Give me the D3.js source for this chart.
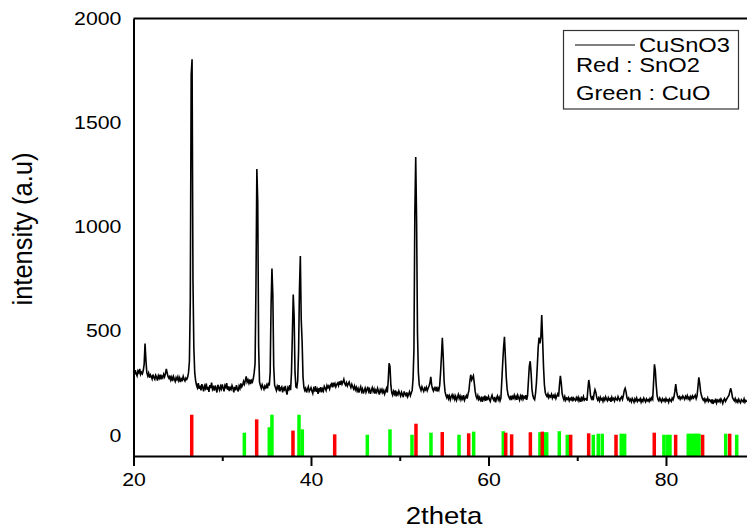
<!DOCTYPE html>
<html>
<head>
<meta charset="utf-8">
<script src="https://cdn.jsdelivr.net/npm/d3@7"></script>
<style>
body { margin: 0; background: #fff; }
svg { display: block; font-family: "Liberation Sans", Arial, sans-serif; }
</style>
</head>
<body>
<svg id="chart" width="747" height="528"></svg>
<script>
// XRD scan: one row per degree, 10 readings per row (0.1 deg step)
var scanStart = 20;
var intensityRows = [
  [305, 290, 312, 296, 285, 308, 300, 318, 292, 302],   // 20
  [295, 310, 340, 440, 360, 300, 285, 298, 276, 290],   // 21
  [282, 270, 291, 276, 268, 288, 279, 262, 285, 274],   // 22
  [290, 268, 283, 275, 292, 280, 296, 318, 298, 280],   // 23
  [272, 286, 265, 278, 260, 282, 270, 258, 276, 266],   // 24
  [280, 262, 275, 255, 270, 264, 282, 268, 260, 274],   // 25
  [268, 278, 300, 355, 650, 1730, 1804, 745, 420, 300], // 26
  [262, 240, 228, 250, 222, 238, 215, 245, 230, 210],   // 27
  [236, 225, 248, 218, 232, 208, 240, 226, 252, 220],   // 28
  [230, 214, 238, 224, 205, 242, 228, 216, 235, 222],   // 29
  [244, 226, 210, 238, 230, 250, 218, 234, 212, 228],   // 30
  [220, 238, 226, 205, 232, 215, 240, 222, 210, 236],   // 31
  [225, 248, 232, 240, 258, 245, 262, 282, 255, 265],   // 32
  [250, 268, 245, 262, 255, 272, 300, 345, 720, 1278],  // 33
  [1120, 425, 255, 238, 225, 242, 230, 220, 236, 228],  // 34
  [240, 225, 252, 238, 300, 620, 800, 675, 330, 240],   // 35
  [228, 215, 235, 222, 240, 210, 226, 232, 205, 225],   // 36
  [218, 236, 212, 195, 228, 220, 240, 216, 300, 480],   // 37
  [675, 570, 300, 232, 228, 260, 400, 700, 860, 555],   // 38
  [450, 280, 230, 215, 225, 205, 220, 232, 210, 218],   // 39
  [228, 212, 200, 224, 216, 235, 208, 220, 198, 226],   // 40
  [214, 230, 206, 222, 212, 234, 225, 215, 238, 228],   // 41
  [236, 222, 240, 246, 230, 252, 238, 248, 232, 244],   // 42
  [250, 238, 258, 242, 262, 245, 255, 268, 248, 240],   // 43
  [252, 236, 246, 255, 240, 228, 244, 232, 222, 236],   // 44
  [218, 230, 212, 224, 205, 220, 232, 210, 222, 200],   // 45
  [214, 226, 206, 218, 232, 210, 220, 198, 215, 228],   // 46
  [210, 222, 200, 216, 206, 225, 212, 195, 218, 208],   // 47
  [220, 204, 215, 198, 212, 224, 205, 260, 345, 330],   // 48
  [240, 205, 192, 210, 198, 215, 186, 204, 195, 212],   // 49
  [200, 188, 206, 195, 182, 210, 198, 190, 205, 185],   // 50
  [196, 208, 190, 202, 215, 270, 410, 1060, 1335, 1030],// 51
  [490, 300, 240, 228, 215, 232, 220, 210, 226, 218],   // 52
  [230, 214, 225, 236, 250, 280, 240, 222, 212, 226],   // 53
  [218, 232, 210, 225, 216, 238, 300, 380, 468, 378],   // 54
  [260, 210, 192, 180, 196, 175, 188, 170, 185, 194],   // 55
  [178, 190, 172, 186, 168, 182, 195, 176, 188, 170],   // 56
  [184, 174, 192, 168, 180, 190, 176, 198, 215, 260],   // 57
  [290, 265, 275, 285, 250, 210, 188, 176, 190, 172],   // 58
  [182, 168, 178, 160, 185, 172, 190, 165, 180, 174],   // 59
  [186, 170, 162, 180, 192, 175, 168, 184, 158, 176],   // 60
  [188, 170, 182, 165, 178, 260, 345, 420, 472, 378],   // 61
  [280, 222, 195, 182, 174, 190, 168, 185, 178, 192],   // 62
  [175, 186, 170, 192, 180, 168, 188, 176, 194, 172],   // 63
  [184, 178, 192, 170, 188, 260, 330, 355, 300, 220],   // 64
  [190, 176, 170, 200, 250, 330, 420, 468, 440, 470],   // 65
  [577, 460, 330, 242, 205, 192, 185, 198, 180, 190],   // 66
  [184, 196, 178, 190, 182, 194, 176, 188, 198, 185],   // 67
  [240, 285, 250, 200, 182, 170, 185, 168, 178, 172],   // 68
  [180, 165, 176, 170, 184, 162, 178, 172, 166, 180],   // 69
  [170, 182, 165, 176, 160, 178, 170, 185, 168, 174],   // 70
  [176, 165, 220, 265, 235, 190, 175, 182, 168, 200],   // 71
  [218, 205, 180, 168, 178, 165, 182, 170, 176, 162],   // 72
  [178, 168, 184, 172, 165, 180, 170, 176, 160, 182],   // 73
  [170, 176, 164, 180, 172, 168, 185, 174, 166, 178],   // 74
  [184, 172, 190, 215, 225, 208, 180, 170, 178, 165],   // 75
  [172, 160, 176, 168, 158, 174, 165, 178, 162, 170],   // 76
  [166, 175, 158, 170, 162, 178, 168, 160, 174, 165],   // 77
  [170, 162, 176, 168, 180, 172, 250, 340, 310, 240],   // 78
  [190, 172, 165, 178, 168, 160, 175, 166, 172, 162],   // 79
  [176, 165, 170, 158, 174, 168, 162, 178, 170, 184],   // 80
  [210, 245, 210, 188, 178, 185, 172, 182, 176, 188],   // 81
  [180, 172, 186, 178, 190, 174, 182, 170, 185, 176],   // 82
  [188, 178, 184, 192, 175, 188, 230, 278, 250, 210],   // 83
  [190, 176, 168, 175, 160, 172, 165, 178, 162, 170],   // 84
  [166, 158, 172, 150, 165, 160, 175, 155, 168, 162],   // 85
  [170, 160, 174, 165, 152, 168, 176, 162, 170, 178],   // 86
  [185, 192, 210, 225, 205, 180, 172, 165, 176, 160],   // 87
  [168, 158, 172, 162, 155, 170, 165, 160, 174, 158],   // 88
  [166, 160]                                            // 89
];

// reference lines (2theta, top of bar in intensity units)
var sno2Pos = [26.56, 33.88, 37.97, 42.67, 51.83, 54.79, 57.77, 61.94, 62.61, 64.72, 66.06, 69.26, 71.29, 74.37, 78.68, 81.09, 84.13, 87.18];
var sno2Top = [98, 76, 22, 4, 55, 15, 9, 12, 4, 14, 17, 2, 9, 2, 12, 2, 2, 7];
var cuoPos = [32.49, 35.30, 35.60, 38.65, 39.02, 46.35, 48.90, 51.38, 53.52, 56.68, 58.33, 61.67, 65.80, 66.30, 66.56, 67.98, 68.88, 71.81, 72.37, 72.82, 74.96, 75.34, 79.77, 80.15, 80.45, 82.51, 82.75, 83.08, 83.30, 83.46, 83.72, 86.73, 87.97];
var cuoTop = [12, 38, 98, 98, 28, 2, 28, 2, 12, 2, 17, 19, 14, 14, 14, 19, 2, 2, 7, 7, 7, 7, 2, 2, 2, 7, 7, 7, 7, 7, 7, 7, 2];

var xMajor = [20, 40, 60, 80];
var xMinor = [30, 50, 70];
var yTicks = [0, 500, 1000, 1500, 2000];
var legendLabels = ["CuSnO3", "Red : SnO2", "Green : CuO"];

var svg = d3.select("#chart");
var plotLeft = 133.5, plotRight = 747, plotTop = 18.5, plotBottom = 456;

var x = d3.scaleLinear().domain([20, 89.13]).range([plotLeft, plotRight]);
var y = d3.scaleLinear().domain([-100, 2000]).range([plotBottom, plotTop]);

var points = [];
intensityRows.forEach(function(row, d) {
  row.forEach(function(v, i) {
    points.push({ t: scanStart + d + i / 10, v: v });
  });
});

// reference bars, green under red
function drawBars(pos, tops, color) {
  svg.append("g").selectAll("rect")
    .data(pos.map(function(p, i) { return { p: p, h: tops[i] }; }))
    .enter().append("rect")
    .attr("x", function(d) { return x(d.p) - 1.75; })
    .attr("y", function(d) { return y(d.h); })
    .attr("width", 3.5)
    .attr("height", function(d) { return y(-100) - y(d.h); })
    .attr("fill", color);
}
drawBars(cuoPos, cuoTop, "#00ff00");
drawBars(sno2Pos, sno2Top, "#ff0000");

svg.append("path")
  .datum(points)
  .attr("fill", "none")
  .attr("stroke", "#000")
  .attr("stroke-width", 1.6)
  .attr("stroke-linejoin", "miter")
  .attr("d", d3.line().x(function(d) { return x(d.t); }).y(function(d) { return y(d.v); }));

// frame top
svg.append("line")
  .attr("x1", plotLeft).attr("x2", plotRight)
  .attr("y1", plotTop).attr("y2", plotTop)
  .attr("stroke", "#000").attr("stroke-width", 2);

var xAxis = svg.append("g")
  .attr("transform", "translate(0," + plotBottom + ")")
  .call(d3.axisBottom(x).tickValues(xMajor).tickSize(10).tickSizeOuter(0).tickFormat(d3.format("d")));
xAxis.select(".domain").attr("stroke-width", 2);
xAxis.selectAll(".tick line").attr("stroke-width", 2);
xAxis.selectAll("text")
  .attr("y", 30.5).attr("dy", null)
  .attr("transform", "scale(1.15,1)")
  .attr("fill", "#000")
  .style("font-size", "18.5px")
  .style("font-family", "'Liberation Sans', Arial, sans-serif");

var xMinorAxis = svg.append("g")
  .attr("transform", "translate(0," + plotBottom + ")")
  .call(d3.axisBottom(x).tickValues(xMinor).tickSize(5).tickFormat(""));
xMinorAxis.select(".domain").remove();
xMinorAxis.selectAll(".tick line").attr("stroke-width", 2);

var yAxis = svg.append("g")
  .attr("transform", "translate(" + plotLeft + ",0)")
  .call(d3.axisLeft(y).tickValues(yTicks).tickSize(0).tickSizeOuter(0).tickFormat(d3.format("d")));
yAxis.select(".domain").attr("stroke-width", 2);
yAxis.selectAll("text")
  .attr("x", -10.5)
  .attr("transform", "scale(1.15,1)")
  .attr("fill", "#000")
  .style("font-size", "18.5px")
  .style("font-family", "'Liberation Sans', Arial, sans-serif");

// axis titles
svg.append("text")
  .attr("transform", "translate(444,524) scale(1.15,1)")
  .attr("text-anchor", "middle")
  .style("font-size", "24px")
  .text("2theta");

svg.append("text")
  .attr("transform", "translate(32,229) scale(1.05,1) rotate(-90)")
  .attr("text-anchor", "middle")
  .style("font-size", "25.5px")
  .text("intensity (a.u)");

// legend
var legend = svg.append("g");
legend.append("rect")
  .attr("x", 563.5).attr("y", 30.5)
  .attr("width", 175).attr("height", 78.5)
  .attr("fill", "#fff").attr("stroke", "#333").attr("stroke-width", 1.2);
legend.append("line")
  .attr("x1", 575).attr("x2", 635)
  .attr("y1", 45).attr("y2", 45)
  .attr("stroke", "#000").attr("stroke-width", 1);
var legendPos = [[639, 51.7], [576, 71.7], [576, 100]];
legend.selectAll("text.lab")
  .data(legendLabels)
  .enter().append("text")
  .attr("class", "lab")
  .attr("transform", function(d, i) { return "translate(" + legendPos[i][0] + "," + legendPos[i][1] + ") scale(1.13,1)"; })
  .style("font-size", "21px")
  .text(function(d) { return d; });
</script>
</body>
</html>
